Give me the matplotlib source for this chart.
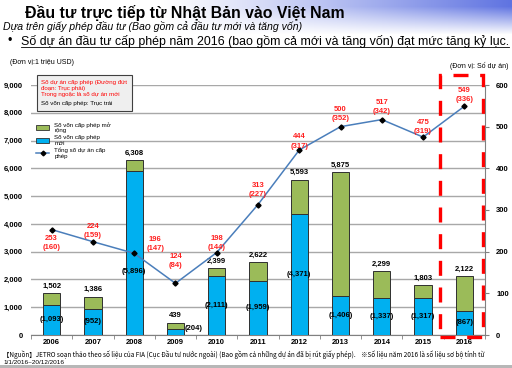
import numpy as np
import matplotlib
matplotlib.use("Agg")
import matplotlib.pyplot as plt
from matplotlib.patches import Rectangle, Patch
from matplotlib.lines import Line2D

plt.rcParams['font.family'] = ['Liberation Sans', 'DejaVu Sans']

years = ['2006', '2007', '2008', '2009', '2010', '2011', '2012', '2013', '2014', '2015', '2016']
total_capital = [1502, 1386, 6308, 439, 2399, 2622, 5593, 5875, 2299, 1803, 2122]
new_capital = [1093, 952, 5896, 204, 2111, 1959, 4371, 1406, 1337, 1317, 867]
total_projects = [253, 224, 196, 124, 198, 313, 444, 500, 517, 475, 549]
new_projects = [160, 159, 147, 84, 144, 227, 317, 352, 342, 319, 336]

W, H = 512, 368
fig = plt.figure(figsize=(W / 100, H / 100), dpi=100)

# background banner gradient
bg = fig.add_axes([0, 0, 1, 1], zorder=-10)
xx, yy = np.meshgrid(np.arange(W), np.arange(H))
hf = np.clip((xx - 160) / (W - 160), 0, 1) ** 1.1
vf = np.clip(1 - (yy - 6) / 28, 0, 1)
a = hf * vf
img = np.ones((H, W, 3))
blue = np.array([95, 115, 225]) / 255
for c in range(3):
    img[:, :, c] = 1 - a * (1 - blue[c])
gray = (yy >= 365)
img[gray] = np.array([0.72, 0.72, 0.72])
bg.imshow(img, extent=[0, W, H, 0], aspect='auto')
bg.set_xlim(0, W); bg.set_ylim(H, 0); bg.axis('off')

def fx(px):
    return px / W

def fy(py):
    return 1 - py / H

ax = fig.add_axes([fx(31), fy(335), fx(485) - fx(31), fy(85) - fy(335)])
ax2 = ax.twinx()

x = np.arange(len(years))
bw = 0.42
green = '#9BBB59'
cyan = '#00B0F0'
exp = [t - n for t, n in zip(total_capital, new_capital)]
ax.bar(x, new_capital, bw, color=cyan, edgecolor='#303030', linewidth=0.7, zorder=3)
ax.bar(x, exp, bw, bottom=new_capital, color=green, edgecolor='#303030', linewidth=0.7, zorder=3)

ax.set_xlim(-0.5, len(years) - 0.5)
ax.set_ylim(0, 9000)
ax.set_yticks(range(0, 9001, 1000))
ax.set_yticklabels([f'{v:,}' for v in range(0, 9001, 1000)], fontsize=5.5, fontweight='bold')
ax.set_xticks(x)
ax.set_xticklabels(years, fontsize=5.5, fontweight='bold')
ax.set_xticks(np.arange(-0.5, len(years), 1), minor=True)
ax.tick_params(axis='x', which='major', length=0, pad=3)
ax.tick_params(axis='x', which='minor', length=3, color='#808080')
ax.tick_params(axis='y', length=0, pad=6)
ax.grid(axis='y', color='#a8a8a8', linewidth=1.0, zorder=0)
ax.set_axisbelow(True)
for s in ['top', 'right', 'left']:
    ax.spines[s].set_visible(False)
ax.spines['bottom'].set_color('#808080')

for i in range(len(years)):
    ax.text(i, total_capital[i] + 120, f'{total_capital[i]:,}', ha='center', va='bottom',
            fontsize=5.5, fontweight='bold', zorder=5)
    ny = new_capital[i] / 2
    nx = i
    ha = 'center'
    if years[i] == '2008':
        ny = 2300
    if years[i] == '2009':
        nx = i + 0.23
        ny = 220
        ha = 'left'
    ax.text(nx, ny, f'({new_capital[i]:,})', ha=ha, va='center', fontsize=5.5,
            fontweight='bold', zorder=5)

ax2.set_ylim(0, 600)
ax2.set_yticks(range(0, 601, 100))
ax2.set_yticklabels([str(v) for v in range(0, 601, 100)], fontsize=5.5, fontweight='bold')
ax2.tick_params(axis='y', length=3, color='#808080', pad=5)
for s in ['top', 'left', 'bottom']:
    ax2.spines[s].set_visible(False)
ax2.spines['right'].set_color('#808080')

ax2.plot(x, total_projects, color='#4A7EBB', linewidth=1.1, marker='D', markersize=2.6,
         markerfacecolor='black', markeredgecolor='black', zorder=6)

# label offsets in pixels (dx, dy for count; new label is 9 px below)
offs = [(0, -9), (0, 15), (21, 14), (0, 27), (0, 14), (0, 19), (0, 13), (0, 17), (0, 17), (0, 15), (0, 16)]
pt = 0.72
for i in range(len(years)):
    dx, dy = offs[i]
    ax2.annotate(str(total_projects[i]), (i, total_projects[i]), xytext=(dx * pt, dy * pt),
                 textcoords='offset points', ha='center', va='center', color='#FF2020',
                 fontsize=5.5, fontweight='bold', zorder=7)
    ax2.annotate(f'({new_projects[i]})', (i, total_projects[i]), xytext=(dx * pt, (dy - 9) * pt),
                 textcoords='offset points', ha='center', va='center', color='#FF2020',
                 fontsize=5.5, fontweight='bold', zorder=7)

# red dashed box around 2016
rect = Rectangle((9.4, -70), 1.04, 9430, fill=False, edgecolor='#FF0000', linewidth=2.4,
                 linestyle=(0, (4.5, 3.5)), clip_on=False, zorder=8, transform=ax.transData)
ax.add_patch(rect)

# note box
fig.patches.append(Rectangle((fx(37), fy(111)), fx(132) - fx(37), fy(75) - fy(111),
                             transform=fig.transFigure, facecolor='#EFEFEF', edgecolor='#404040',
                             linewidth=0.8, zorder=5))
fig.text(fx(41), fy(80), 'Số dự án cấp phép (Đường đứt\nđoạn: Trục phải)\nTrong ngoặc là số dự án mới',
         color='#FF0000', fontsize=4.4, va='top', ha='left', linespacing=1.25, zorder=6)
fig.text(fx(41), fy(103), 'Số vốn cấp phép: Trục trái', color='black', fontsize=4.4,
         va='center', ha='left', zorder=6)

handles = [Patch(facecolor=green, edgecolor='#303030', linewidth=0.6),
           Patch(facecolor=cyan, edgecolor='#303030', linewidth=0.6),
           Line2D([0], [0], color='#4A7EBB', marker='D', markersize=2.4,
                  markerfacecolor='black', markeredgecolor='black', linewidth=1.1)]
labels = ['Số vốn cấp phép mở\nrộng', 'Số vốn cấp phép\nmới', 'Tổng số dự án cấp\nphép']
leg = fig.legend(handles, labels, loc='upper left', bbox_to_anchor=(fx(36), fy(122)),
                 frameon=False, fontsize=4.4, handlelength=2.2, handleheight=0.8,
                 labelspacing=0.25, handletextpad=0.8, borderaxespad=0, borderpad=0)

# titles
fig.text(fx(25), fy(13), 'Đầu tư trực tiếp từ Nhật Bản vào Việt Nam', fontsize=11.4,
         fontweight='bold', va='center', ha='left')
fig.text(fx(3), fy(27), 'Dựa trên giấy phép đầu tư (Bao gồm cả đầu tư mới và tăng vốn)',
         fontsize=7.6, style='italic', va='center', ha='left')
fig.text(fx(8), fy(41), '•', fontsize=8.8, va='center', ha='left')
bt = fig.text(fx(21), fy(41), 'Số dự án đầu tư cấp phép năm 2016 (bao gồm cả mới và tăng vốn) đạt mức tăng kỷ lục.',
              fontsize=8.9, va='center', ha='left')
fig.canvas.draw()
bb = bt.get_window_extent(renderer=fig.canvas.get_renderer())
fig.add_artist(Line2D([bb.x0 / W, bb.x1 / W], [bb.y0 / H + 0.5 / H, bb.y0 / H + 0.5 / H],
                      transform=fig.transFigure, color='black', linewidth=0.6))

fig.text(fx(10), fy(62), '(Đơn vị:1 triệu USD)', fontsize=5, va='center', ha='left')
fig.text(fx(508), fy(66), '(Đơn vị: Số dự án)', fontsize=5, va='center', ha='right')

fig.text(fx(3), fy(355), '【Nguồn】JETRO soạn thảo theo số liệu của FIA (Cục Đầu tư nước ngoài) (Bao gồm cả những dự án đã bị rút giấy phép).    ※Số liệu năm 2016 là số liệu sơ bộ tính từ',
         fontsize=4.6, va='center', ha='left', family=['Noto Sans CJK JP', 'DejaVu Sans'])
fig.text(fx(3), fy(362), '1/1/2016~20/12/2016', fontsize=4.6, va='center', ha='left')

fig.savefig('out.png', dpi=100)
